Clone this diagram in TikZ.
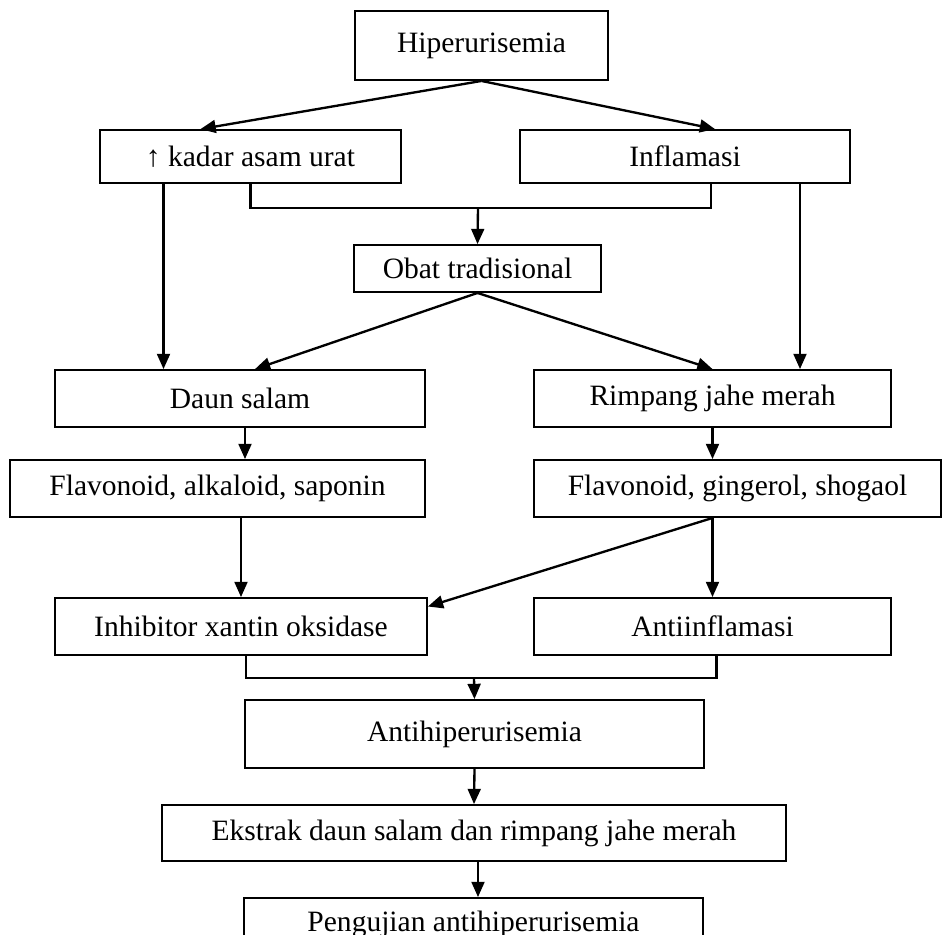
\documentclass[tikz,border=0pt]{standalone}
\usepackage{fontspec}
\setmainfont{Liberation Serif}
\usetikzlibrary{arrows.meta,positioning}

\begin{document}
\begin{tikzpicture}[x=0.015cm, y=-0.015cm,
		kotak/.style={draw, line width=0.8pt, rectangle, inner sep=0pt, font=\fontsize{12.6}{15}\selectfont},
		panah/.style={-{Triangle[length=6.5pt,width=5.5pt]}, line width=1pt},
		garis/.style={line width=1pt}]
		\useasboundingbox (0,0) rectangle (944,934);
		
		% kotak-kotak
		\node[kotak, minimum width=253*0.015cm, minimum height=69*0.015cm] (hiper) at (481.5,45.5) {Hiperurisemia};
		\node[kotak, minimum width=301*0.015cm, minimum height=53*0.015cm] (kadar) at (250.5,156.5) {↑ kadar asam urat};
		\node[kotak, minimum width=330*0.015cm, minimum height=53*0.015cm] (inflamasi) at (685,156.5) {Inflamasi};
		\node[kotak, minimum width=247*0.015cm, minimum height=47*0.015cm] (obat) at (477.5,268.5) {Obat tradisional};
		\node[kotak, minimum width=370*0.015cm, minimum height=57*0.015cm] (daun) at (240,398.5) {Daun salam};
		\node[kotak, minimum width=357*0.015cm, minimum height=57*0.015cm] (rimpang) at (712.5,398.5) {Rimpang jahe merah};
		\node[kotak, minimum width=415*0.015cm, minimum height=57*0.015cm] (flavA) at (217.5,488.5) {Flavonoid, alkaloid, saponin};
		\node[kotak, minimum width=407*0.015cm, minimum height=57*0.015cm] (flavB) at (737.5,488.5) {Flavonoid, gingerol, shogaol};
		\node[kotak, minimum width=372*0.015cm, minimum height=57*0.015cm] (inhib) at (241,626.5) {Inhibitor xantin oksidase};
		\node[kotak, minimum width=357*0.015cm, minimum height=57*0.015cm] (antiinf) at (712.5,626.5) {Antiinflamasi};
		\node[kotak, minimum width=459*0.015cm, minimum height=68*0.015cm] (antihip) at (474.5,734) {Antihiperurisemia};
		\node[kotak, minimum width=624*0.015cm, minimum height=56*0.015cm] (ekstrak) at (474,833) {Ekstrak daun salam dan rimpang jahe merah};
		\node[kotak, minimum width=459*0.015cm, minimum height=52*0.015cm] (uji) at (473.5,924) {Pengujian antihiperurisemia};
		
		% titik pertemuan
		\coordinate (j1) at (478,208);
		\coordinate (j2) at (474,678);
		
		% panah atas
		\draw[panah] (hiper.south) -- ([xshift=-50*0.015cm]kadar.north);
		\draw[panah] (hiper.south) -- ([xshift=30*0.015cm]inflamasi.north);
		\draw[garis] (kadar.south) |- (j1) -| ([xshift=26*0.015cm]inflamasi.south);
		\draw[panah] (j1) -- (obat.north);
		
		% jalur samping
		\draw[panah] ([xshift=-87*0.015cm]kadar.south) -- ([xshift=-87*0.015cm]kadar.south |- daun.north);
		\draw[panah] ([xshift=115*0.015cm]inflamasi.south) -- ([xshift=115*0.015cm]inflamasi.south |- rimpang.north);
		\draw[panah] (obat.south) -- ([xshift=15*0.015cm]daun.north);
		\draw[panah] (obat.south) -- (rimpang.north);
		
		% kandungan
		\draw[panah] ([xshift=5*0.015cm]daun.south) -- ([xshift=5*0.015cm]daun.south |- flavA.north);
		\draw[panah] (rimpang.south) -- (rimpang.south |- flavB.north);
		\draw[panah] (inhib.north |- flavA.south) -- (inhib.north);
		\draw[panah] (antiinf.north |- flavB.south) -- ([yshift=20*0.015cm]inhib.east);
		\draw[panah] (antiinf.north |- flavB.south) -- (antiinf.north);
		
		% bawah
		\draw[garis] ([xshift=5*0.015cm]inhib.south) |- (j2) -| ([xshift=4*0.015cm]antiinf.south);
		\draw[panah] (j2) -- (antihip.north);
		\draw[panah] (antihip.south) -- (ekstrak.north);
		\draw[panah] ([xshift=4*0.015cm]ekstrak.south) -- ([xshift=4*0.015cm]ekstrak.south |- uji.north);
	\end{tikzpicture}
\end{document}
